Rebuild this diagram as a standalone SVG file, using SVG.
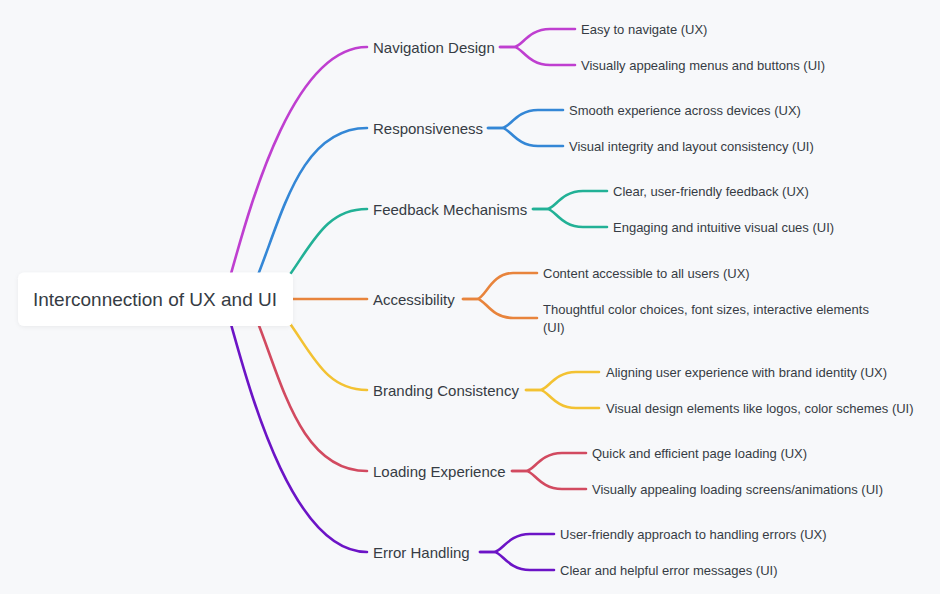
<svg xmlns="http://www.w3.org/2000/svg" width="940" height="594" viewBox="0 0 940 594">
<style>
.bg{fill:#f7f8fa}
.c{fill:none;stroke-width:2.6;stroke-linecap:round;stroke-linejoin:round}
.root{font-family:"Liberation Sans",Arial,sans-serif;font-size:19px;fill:#363c44}
.br{font-family:"Liberation Sans",Arial,sans-serif;font-size:15px;fill:#363c44}
.lf{font-family:"Liberation Sans",Arial,sans-serif;font-size:13px;fill:#363c44}
.m{stroke:#bf3fd0}.b{stroke:#3487d6}.g{stroke:#22b196}.o{stroke:#e8843c}.y{stroke:#f3c232}.r{stroke:#d24a60}.p{stroke:#6c14c6}
</style>
<defs>
<filter id="sh" x="-10%" y="-30%" width="120%" height="160%">
<feDropShadow dx="0" dy="1" stdDeviation="2" flood-color="#000" flood-opacity="0.06"/>
</filter>
</defs>
<rect class="bg" x="0" y="0" width="940" height="594"/>
<g id="connectors">
<path class="c m" d="M229.5 279 C247 218 290 47 367 47"/>
<path class="c b" d="M256 280 C282 216 300 128 367 128"/>
<path class="c g" d="M286 280 C312 245 325 209 367 209"/>
<path class="c o" d="M290 299 L367 299"/>
<path class="c y" d="M286 318 C312 353 325 390 367 390"/>
<path class="c r" d="M256 318 C282 382 300 471 367 471"/>
<path class="c p" d="M229.5 319 C247 380 290 552 367 552"/>
<path class="c m" d="M500 47 L514 47 C522 47 528 29 550 29 L575 29"/>
<path class="c m" d="M500 47 L514 47 C522 47 528 65 550 65 L575 65"/>
<path class="c b" d="M488 128 L502 128 C510 128 516 110 538 110 L563 110"/>
<path class="c b" d="M488 128 L502 128 C510 128 516 146 538 146 L563 146"/>
<path class="c g" d="M533 209 L547 209 C555 209 561 191 583 191 L607 191"/>
<path class="c g" d="M533 209 L547 209 C555 209 561 227 583 227 L607 227"/>
<path class="c o" d="M463 299 L477 299 C485 299 491 273 513 273 L537 273"/>
<path class="c o" d="M463 299 L477 299 C485 299 491 318 513 318 L537 318"/>
<path class="c y" d="M526 390 L540 390 C548 390 554 372 576 372 L599 372"/>
<path class="c y" d="M526 390 L540 390 C548 390 554 408 576 408 L599 408"/>
<path class="c r" d="M512 471 L526 471 C534 471 540 453 562 453 L586 453"/>
<path class="c r" d="M512 471 L526 471 C534 471 540 489 562 489 L586 489"/>
<path class="c p" d="M480 552 L494 552 C502 552 508 534 530 534 L554 534"/>
<path class="c p" d="M480 552 L494 552 C502 552 508 570 530 570 L554 570"/>
</g>
<g id="root">
<rect x="18" y="272.5" width="275" height="53.5" rx="6" fill="#ffffff" filter="url(#sh)"/>
<text class="root" x="33" y="306">Interconnection of UX and UI</text>
</g>
<g id="navigation-design"><text class="br" x="373" y="52.5">Navigation Design</text></g>
<g id="nav-ux"><text class="lf" x="581" y="33.5">Easy to navigate (UX)</text></g>
<g id="nav-ui"><text class="lf" x="581" y="69.5">Visually appealing menus and buttons (UI)</text></g>
<g id="responsiveness"><text class="br" x="373" y="133.5">Responsiveness</text></g>
<g id="resp-ux"><text class="lf" x="569" y="114.5">Smooth experience across devices (UX)</text></g>
<g id="resp-ui"><text class="lf" x="569" y="150.5">Visual integrity and layout consistency (UI)</text></g>
<g id="feedback-mechanisms"><text class="br" x="373" y="214.5">Feedback Mechanisms</text></g>
<g id="fb-ux"><text class="lf" x="613" y="195.5">Clear, user-friendly feedback (UX)</text></g>
<g id="fb-ui"><text class="lf" x="613" y="231.5">Engaging and intuitive visual cues (UI)</text></g>
<g id="accessibility"><text class="br" x="373" y="304.5">Accessibility</text></g>
<g id="acc-ux"><text class="lf" x="543" y="277.5">Content accessible to all users (UX)</text></g>
<g id="acc-ui"><text class="lf" x="543" y="313.5">Thoughtful color choices, font sizes, interactive elements</text><text class="lf" x="543" y="331.5">(UI)</text></g>
<g id="branding-consistency"><text class="br" x="373" y="395.5">Branding Consistency</text></g>
<g id="br-ux"><text class="lf" x="606" y="376.5">Aligning user experience with brand identity (UX)</text></g>
<g id="br-ui"><text class="lf" x="606" y="412.5">Visual design elements like logos, color schemes (UI)</text></g>
<g id="loading-experience"><text class="br" x="373" y="476.5">Loading Experience</text></g>
<g id="ld-ux"><text class="lf" x="592" y="457.5">Quick and efficient page loading (UX)</text></g>
<g id="ld-ui"><text class="lf" x="592" y="493.5">Visually appealing loading screens/animations (UI)</text></g>
<g id="error-handling"><text class="br" x="373" y="557.5">Error Handling</text></g>
<g id="err-ux"><text class="lf" x="560" y="538.5">User-friendly approach to handling errors (UX)</text></g>
<g id="err-ui"><text class="lf" x="560" y="574.5">Clear and helpful error messages (UI)</text></g>
</svg>
